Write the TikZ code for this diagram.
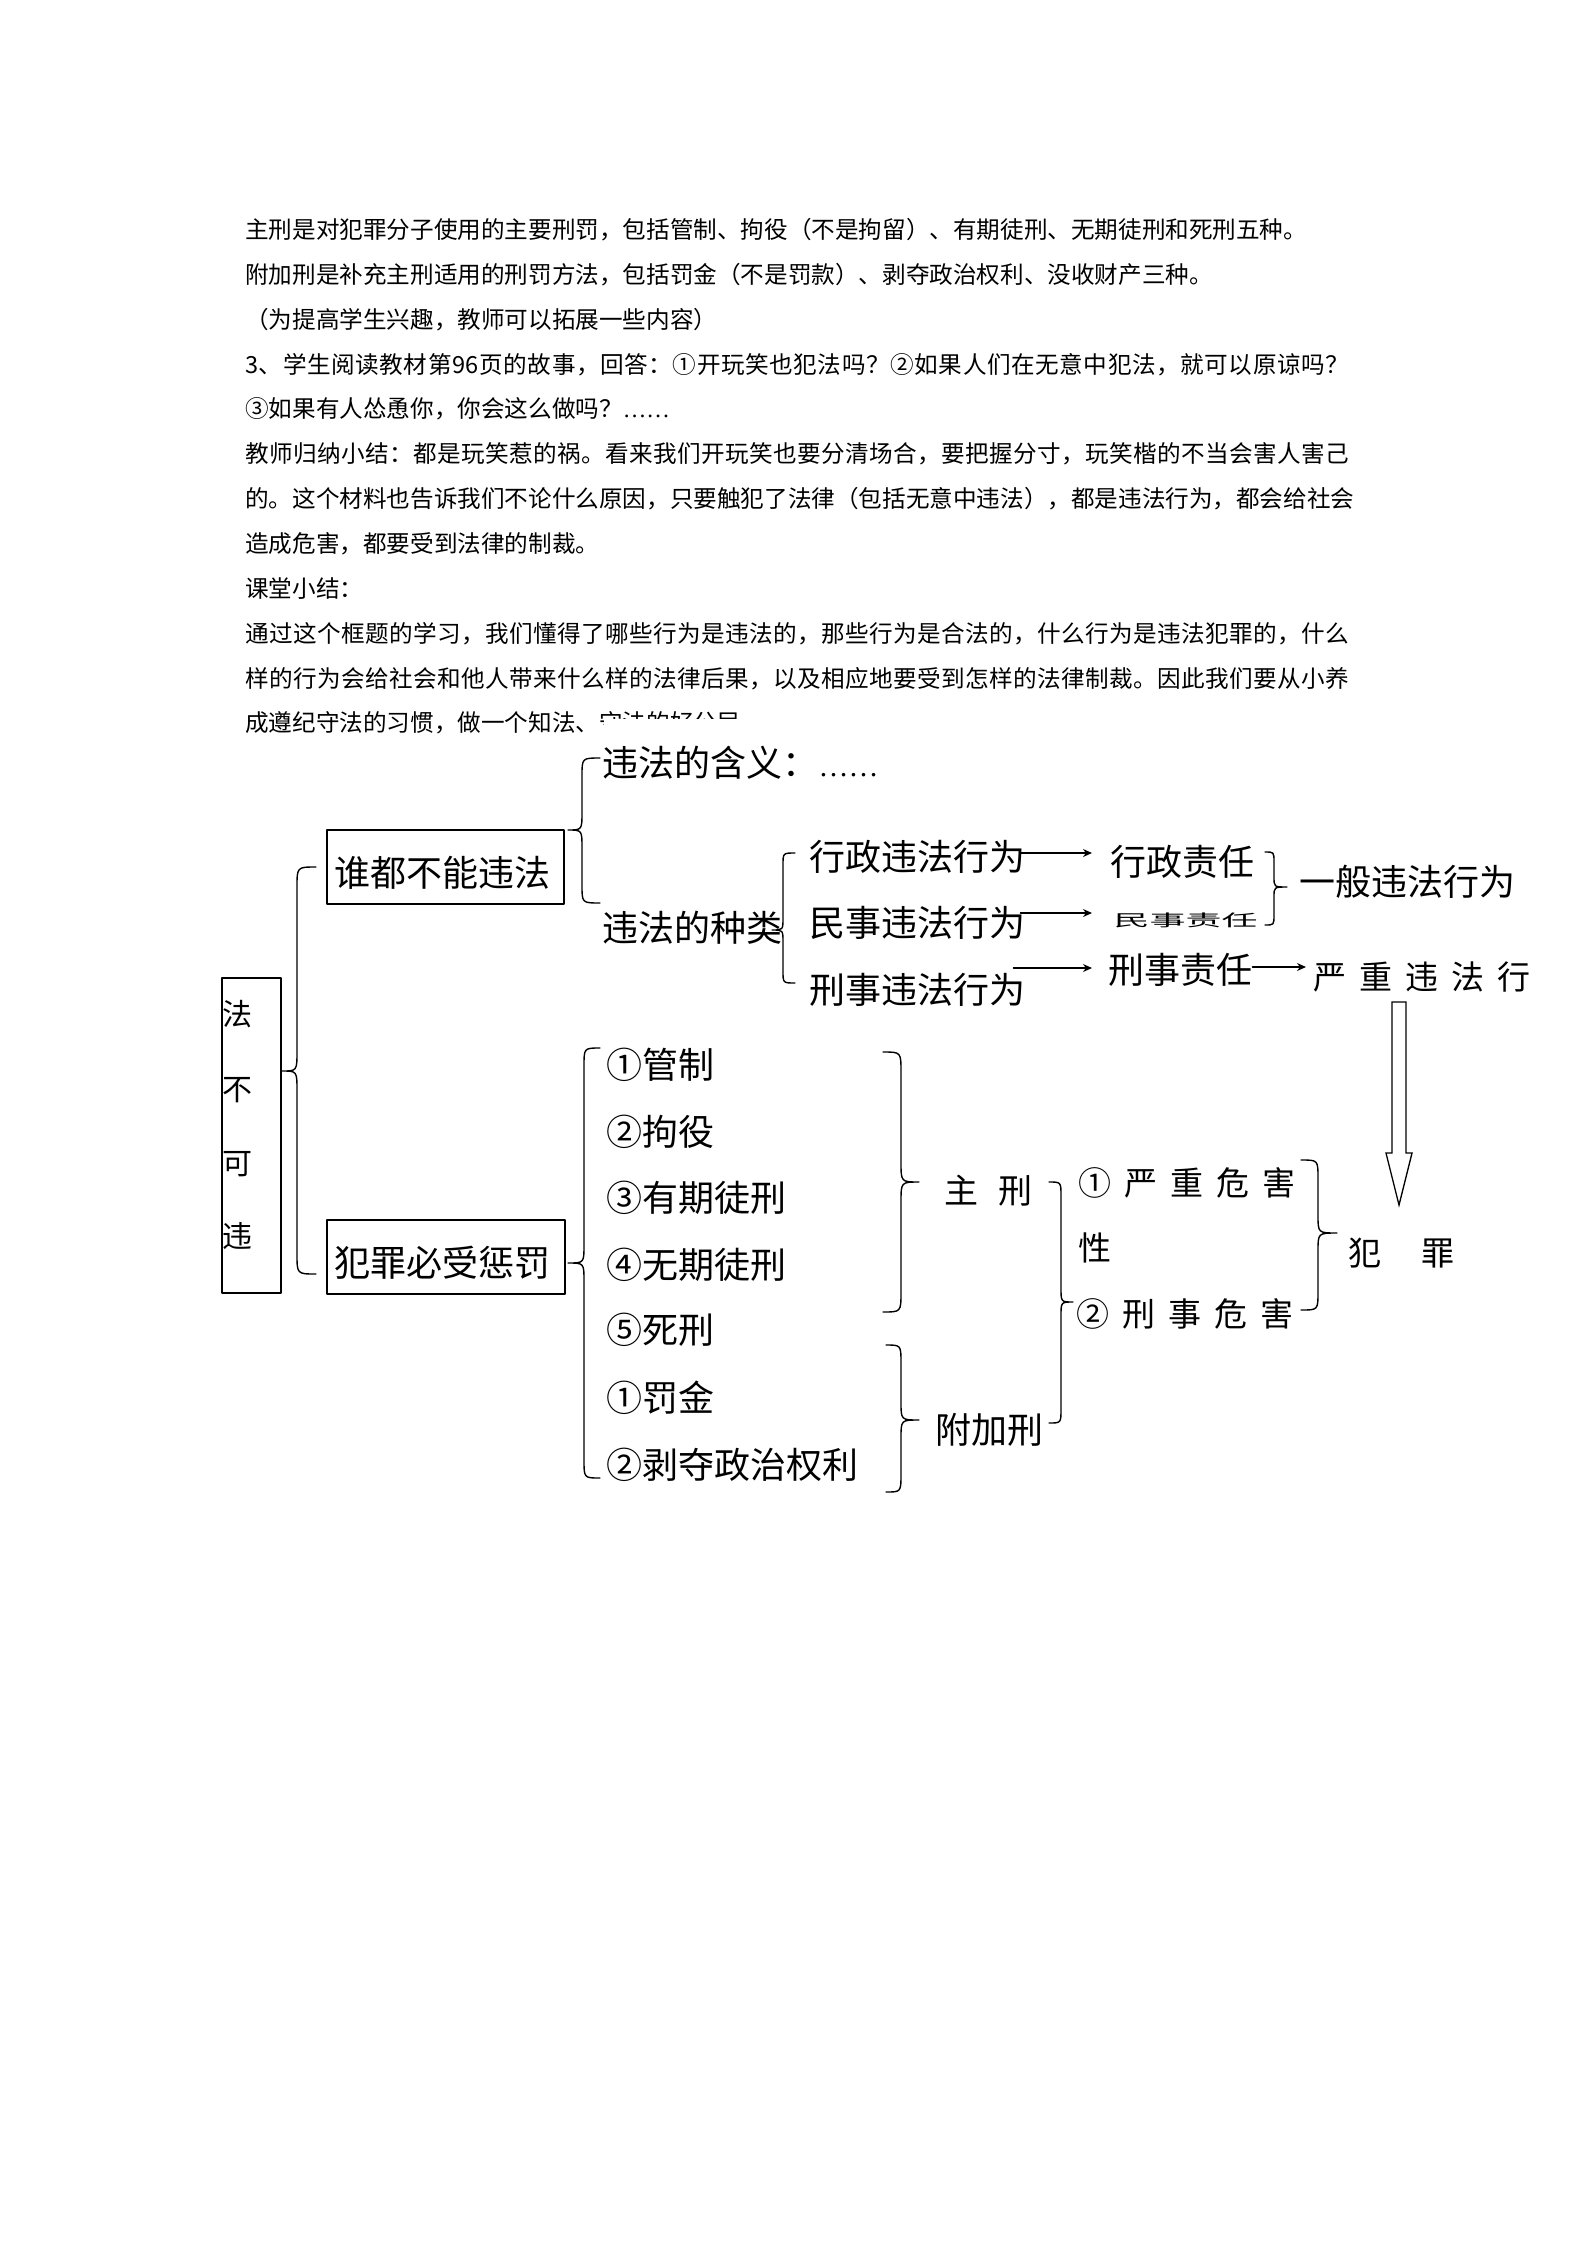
\documentclass[tikz,border=0pt]{standalone}
\usepackage{fontspec}
\usepackage{graphicx}
\setmainfont{Noto Sans CJK SC}
\newfontfamily\lserif{Liberation Serif}
\usetikzlibrary{calc,arrows.meta}
\newcommand\kgap[1]{\hspace{#1pt}}
\def\jstend{}
\newcommand\jst[1]{\makebox[1104pt][s]{\jstgo#1\jstend}}
\def\jstgo#1#2\jstend{#1\jstloop#2\jstend}
\def\jstloop#1{\ifx#1\jstend\else\hskip0pt plus1fil\relax#1\expandafter\jstloop\fi}
% brace: x_end, x_vertical, x_tip, y_top, y_tip, y_bottom, radius
\newcommand\cbr[7]{\draw[brc] (#1,#4) .. controls (#2,#4) .. (#2,#4+#7) -- (#2,#5-#7) .. controls (#2,#5) .. (#3,#5) .. controls (#2,#5) .. (#2,#5+#7) -- (#2,#6-#7) .. controls (#2,#6) .. (#1,#6);}
\begin{document}
\begin{tikzpicture}[x=1pt,y=-1pt,line join=round,line cap=round,
  body/.style={anchor=base west,inner sep=0pt,font=\fontsize{23.6}{28}\selectfont},
  dtxt/.style={anchor=base west,inner sep=0pt,font=\fontsize{36}{40}\selectfont},
  stxt/.style={anchor=base west,inner sep=0pt,font=\fontsize{33}{38}\selectfont},
  vtxt/.style={anchor=base west,inner sep=0pt,font=\fontsize{30}{34}\selectfont},
  bx/.style={draw,line width=1.5pt,inner sep=0pt},
  brc/.style={line width=1.4pt},
  arr/.style={line width=1.3pt,-{Stealth[length=9pt,width=8pt]}}]
\fill[white] (0,0) rectangle (1594,2252);
\useasboundingbox (0,0) rectangle (1594,2252);

% ---- body text ----
\node[body] (l0) at (245,238.5) {主刑是对犯罪分子使用的主要刑罚，包括管制、拘役（不是拘留）、有期徒刑、无期徒刑和死刑五种。};
\node[body] (l1) at (245,283.35) {附加刑是补充主刑适用的刑罚方法，包括罚金（不是罚款）、剥夺政治权利、没收财产三种。};
\node[body] (l2) at (245,328.2) {（为提高学生兴趣，教师可以拓展一些内容）};
\node[body] (l3) at (245,373.05) {\jst{3、学生阅读教材第96页的故事，回答：①开玩笑也犯法吗？②如果人们在无意中犯法，就可以原谅吗？}};
\node[body] (l4) at (245,417.9) {③如果有人怂恿你，你会这么做吗？{\lserif ……}};
\node[body] (l5) at (245,462.75) {\jst{教师归纳小结：都是玩笑惹的祸。看来我们开玩笑也要分清场合，要把握分寸，玩笑楷的不当会害人害己}};
\node[body] (l6) at (245,507.6) {\jst{的。这个材料也告诉我们不论什么原因，只要触犯了法律（包括无意中违法），都是违法行为，都会给社会}};
\node[body] (l7) at (245,552.45) {造成危害，都要受到法律的制裁。};
\node[body] (l8) at (245,597.3) {课堂小结：};
\node[body] (l9) at (245,642.15) {\jst{通过这个框题的学习，我们懂得了哪些行为是违法的，那些行为是合法的，什么行为是违法犯罪的，什么}};
\node[body] (l10) at (245,687) {\jst{样的行为会给社会和他人带来什么样的法律后果，以及相应地要受到怎样的法律制裁。因此我们要从小养}};
\node[body] (l11) at (245,731.85) {成遵纪守法的习惯，做一个知法、守法的好公民};
\fill[white] (604,719) rectangle (760,748);

% ---- diagram: boxes ----
\node[bx,minimum width=59pt,minimum height=315pt] (fb) at (251.5,1135.5) {};
\node[vtxt] (f1) at (221.8,1025.4) {法};
\node[vtxt] (f2) at (221.8,1100.4) {不};
\node[vtxt] (f3) at (221.8,1174.4) {可};
\node[vtxt] (f4) at (221.8,1247.4) {违};

\node[bx,minimum width=237pt,minimum height=74pt] (b1) at (445.5,867) {};
\node[dtxt] (b1t) at (334.5,886.7) {谁都不能违法};
\node[bx,minimum width=238pt,minimum height=74pt] (b2) at (446,1257) {};
\node[dtxt] (b2t) at (334.5,1276.7) {犯罪必受惩罚};

% ---- upper branch ----
\node[dtxt] (hy) at (602.5,776.7) {违法的含义：{\lserif\fontsize{30}{34}\selectfont ……}};
\node[dtxt] (zl) at (602.5,941.7) {违法的种类};
\node[dtxt] (xzwf) at (809.5,870.7) {行政违法行为};
\node[dtxt] (mswf) at (809.5,936.7) {民事违法行为};
\node[dtxt] (xswf) at (809.5,1003.7) {刑事违法行为};
\node[dtxt] (xzzr) at (1110.5,875.7) {行政责任};
\node[dtxt] (mszr) at (1113.5,926) {\scalebox{1}[0.45]{民事责任}};
\node[dtxt] (xszr) at (1108.5,983.7) {刑事责任};
\node[dtxt] (ybwf) at (1299.5,895.7) {一般违法行为};
\node[stxt] (yzwf) at (1313.7,989.5) {严\kgap{13}重\kgap{13}违\kgap{13}法\kgap{13}行};

\draw[arr] ($(xzwf.base east)+(-5.5,-17.7)$) -- ($(xzzr.base west)+(-18.5,-22.7)$);
\draw[arr] ($(mswf.base east)+(-5.5,-23.7)$) -- ($(mszr.base west)+(-21.5,-13)$);
\draw[arr] ($(xswf.base east)+(-12.5,-35.7)$) -- ($(xszr.base west)+(-16.5,-15.7)$);
\draw[arr] ($(xszr.base east)+(-0.5,-16.7)$) -- ($(yzwf.base west)+(-7.7,-22.5)$);

% hollow arrow down
\draw[line width=1.3pt,fill=white,line cap=butt,line join=miter] (1392,1002) -- (1392,1153) -- (1386,1153) -- (1399,1205) -- (1412,1153) -- (1406,1153) -- (1406,1002) -- cycle;

% ---- lower branch ----
\node[dtxt] (p1) at (606.5,1078.7) {①管制};
\node[dtxt] (p2) at (606.5,1145.7) {②拘役};
\node[dtxt] (p3) at (606.5,1211.7) {③有期徒刑};
\node[dtxt] (p4) at (606.5,1278.7) {④无期徒刑};
\node[dtxt] (p5) at (606.5,1343.7) {⑤死刑};
\node[dtxt] (p6) at (606.5,1411.7) {①罚金};
\node[dtxt] (p7) at (606.5,1478.7) {②剥夺政治权利};
\node[anchor=base west,inner sep=0pt,font=\fontsize{34}{38}\selectfont] (zx) at (944.6,1203) {主\kgap{20}刑};
\node[dtxt] (fjx) at (935.5,1443.7) {附加刑};
\node[stxt] (c1) at (1078.7,1195.5) {①\kgap{13}严\kgap{13}重\kgap{13}危\kgap{13}害};
\node[stxt] (c1b) at (1078.7,1260.5) {性};
\node[stxt] (c2) at (1076.7,1326.5) {②\kgap{13}刑\kgap{13}事\kgap{13}危\kgap{13}害};
\node[stxt] (fz) at (1348.7,1265.5) {犯\kgap{40}罪};

% ---- braces ----
\cbr{316}{297}{282}{867}{1071}{1274}{20}
\cbr{600}{582}{568}{758}{830}{903}{18}
\cbr{795}{783}{772}{853}{930}{983}{12}
\cbr{1265}{1274}{1287}{852}{887}{925}{10}
\cbr{600}{584}{568}{1048}{1263}{1478}{18}
\cbr{883}{901}{919}{1052}{1182}{1312}{20}
\cbr{886}{901}{919}{1345}{1420}{1492}{18}
\cbr{1049}{1061}{1073}{1182}{1302}{1423}{14}
\cbr{1301}{1318}{1337}{1160}{1233}{1310}{18}
\end{tikzpicture}
\end{document}
